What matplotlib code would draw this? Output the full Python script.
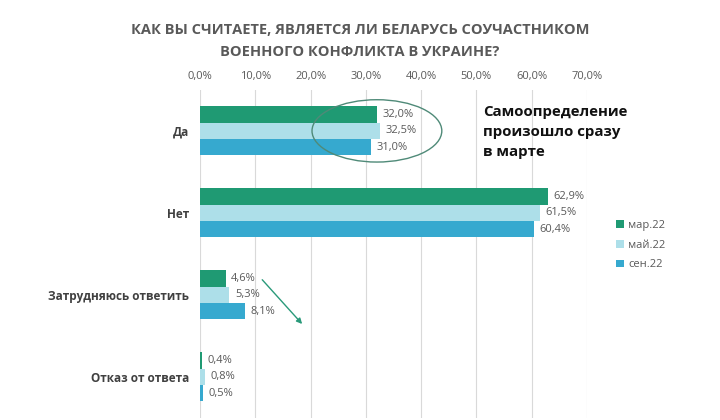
import matplotlib.pyplot as plt
import numpy as np
from matplotlib.patches import Ellipse

plt.rcParams['font.family'] = ['Open Sans', 'DejaVu Sans']

categories = ["Да", "Нет", "Затрудняюсь ответить", "Отказ от ответа"]
series_names = ["мар.22", "май.22", "сен.22"]
mar22 = [32.0, 62.9, 4.6, 0.4]
may22 = [32.5, 61.5, 5.3, 0.8]
sep22 = [31.0, 60.4, 8.1, 0.5]
colors = ["#1f9a73", "#addfe9", "#36a9cf"]

fig = plt.figure(figsize=(7.2, 4.2), dpi=100)
ax = fig.add_axes([0.278, 0.005, 0.537, 0.781])

y = np.arange(len(categories))
h = 0.2
for i, (vals, name, c) in enumerate(zip([mar22, may22, sep22], series_names, colors)):
    pos = y + (i - 1) * h
    ax.barh(pos, vals, height=h, color=c, label=name, zorder=2)
    for p, v in zip(pos, vals):
        ax.annotate(f"{v:.1f}%".replace(".", ","), (v, p), xytext=(4, 0),
                    textcoords="offset points", va="center", ha="left",
                    fontsize=8, color="#595959")

ax.set_xlim(0, 70)
ax.set_ylim(3.5, -0.5)
ax.xaxis.tick_top()
ax.set_xticks(np.arange(0, 71, 10))
ax.set_xticklabels([f"{t:.1f}%".replace(".", ",") for t in range(0, 71, 10)],
                   fontsize=8, color="#595959")
ax.set_yticks(y)
ax.set_yticklabels(categories, fontsize=8.5, fontweight="bold", color="#404040")
ax.tick_params(length=0)
ax.tick_params(axis="x", pad=6)
ax.tick_params(axis="y", pad=8)
ax.grid(axis="x", color="#d9d9d9", linewidth=0.8, zorder=0)
for s in ax.spines.values():
    s.set_visible(False)

fig.text(0.5, 0.902, "КАК ВЫ СЧИТАЕТЕ, ЯВЛЯЕТСЯ ЛИ БЕЛАРУСЬ СОУЧАСТНИКОМ\nВОЕННОГО КОНФЛИКТА В УКРАИНЕ?",
         ha="center", va="center", fontsize=10.5, fontweight="bold", color="#595959",
         linespacing=1.75)

# highlight around the "Да" group
ax.add_patch(Ellipse((32.0, 0.0), 23.5, 0.76, fill=False, edgecolor="#4f8a78",
                     linewidth=1.0, zorder=3))
ax.annotate("", xy=(18.8, 2.38), xytext=(10.9, 1.79),
            arrowprops=dict(arrowstyle="-|>", color="#2a9a7a", lw=1.0, mutation_scale=8))

fig.text(0.671, 0.686, "Самоопределение\nпроизошло сразу\nв марте", ha="left", va="center",
         fontsize=10.8, fontweight="bold", color="#111111", linespacing=1.55)

ax.legend(loc="center left", bbox_to_anchor=(1.05, 0.527), frameon=False, fontsize=8,
          labelcolor="#595959", handlelength=0.7, handleheight=0.7, handletextpad=0.4,
          labelspacing=0.8)

fig.savefig("out.png", dpi=100)
